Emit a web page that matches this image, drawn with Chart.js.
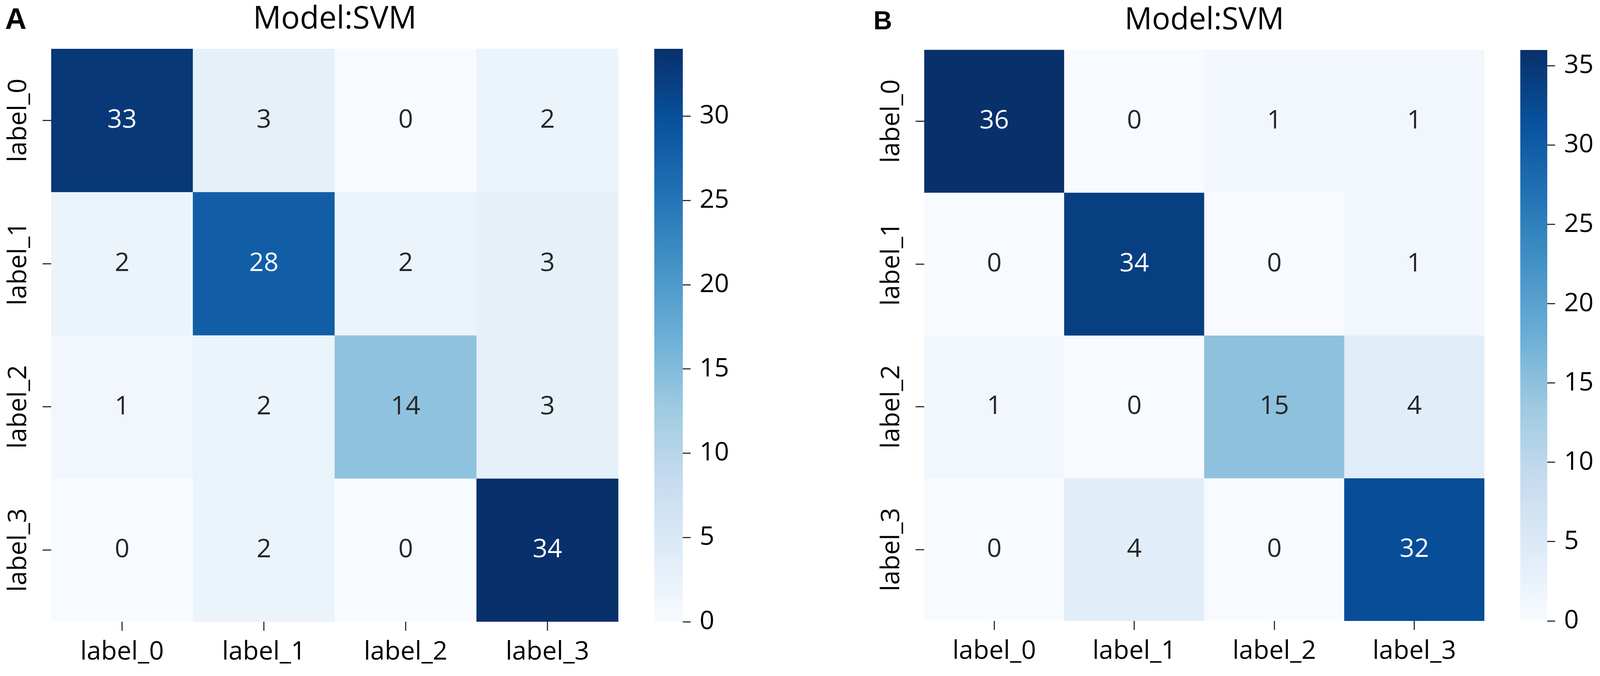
<!DOCTYPE html>
<html>
<head>
<meta charset="utf-8">
<script src="https://cdn.jsdelivr.net/npm/chart.js@4.4.1/dist/chart.umd.min.js"></script>
<style>
  html, body { margin: 0; padding: 0; background: #fff; overflow: hidden; }
  body { width: 4104px; height: 1731px; position: relative; }
  canvas { position: absolute; top: 0; }
  .tag { position: absolute; font-family: 'Liberation Sans', Arial, sans-serif; font-weight: bold; line-height: 1; color: #000; }
</style>
</head>
<body>
<div class="tag" style="left:13px; top:10px; font-size:76px;">A</div>
<div class="tag" style="left:2236px; top:19px; font-size:66px;">B</div>
<canvas id="heatA" width="1583" height="1731" style="left:0px"></canvas>
<canvas id="cbarA" width="300" height="1731" style="left:1675px"></canvas>
<canvas id="heatB" width="1600" height="1731" style="left:2200px"></canvas>
<canvas id="cbarB" width="212" height="1731" style="left:3892px"></canvas>
<script>
(function () {
  'use strict';

  // ── DATA ──────────────────────────────────────────────────────────────────
  var classLabels = ['label_0', 'label_1', 'label_2', 'label_3'];
  var titleText   = 'Model:SVM';

  // confusion matrices, rows = true class, cols = predicted class
  var matrixA = [
    [33, 3, 0, 2],
    [2, 28, 2, 3],
    [1, 2, 14, 3],
    [0, 2, 0, 34]
  ];
  var matrixB = [
    [36, 0, 1, 1],
    [0, 34, 0, 1],
    [1, 0, 15, 4],
    [0, 4, 0, 32]
  ];

  var cbarTicksA = [0, 5, 10, 15, 20, 25, 30];
  var cbarTicksB = [0, 5, 10, 15, 20, 25, 30, 35];

  // matplotlib "Blues"
  var blues = ['#f7fbff', '#deebf7', '#c6dbef', '#9ecae1', '#6baed6',
               '#4292c6', '#2171b5', '#08519c', '#08306b'];

  var FONT = "'Open Sans', 'Noto Sans', sans-serif";
  Chart.defaults.font.family = FONT;
  Chart.defaults.color = '#111';

  // ── COLOUR HELPERS ────────────────────────────────────────────────────────

  function hexToRgb(h) {
    return [parseInt(h.substr(1, 2), 16), parseInt(h.substr(3, 2), 16), parseInt(h.substr(5, 2), 16)];
  }

  function bluesAt(t) {
    t = Math.max(0, Math.min(1, t));
    var pos = t * (blues.length - 1);
    var i = Math.min(Math.floor(pos), blues.length - 2);
    var f = pos - i;
    var a = hexToRgb(blues[i]), b = hexToRgb(blues[i + 1]);
    return [0, 1, 2].map(function (k) { return Math.round(a[k] + (b[k] - a[k]) * f); });
  }

  // seaborn picks the annotation colour from relative luminance
  function textColorFor(rgb) {
    var lin = rgb.map(function (c) {
      c = c / 255;
      return c <= 0.03928 ? c / 12.92 : Math.pow((c + 0.055) / 1.055, 2.4);
    });
    var lum = 0.2126 * lin[0] + 0.7152 * lin[1] + 0.0722 * lin[2];
    return lum > 0.408 ? '#262626' : '#ffffff';
  }

  function rgbStr(rgb) { return 'rgb(' + rgb.join(',') + ')'; }

  // ── CELL ANNOTATIONS ──────────────────────────────────────────────────────

  var annotatePlugin = {
    id: 'annotate',
    afterDatasetsDraw: function (chart) {
      var ctx = chart.ctx;
      var m = chart.options.plugins.annotate;
      ctx.save();
      ctx.font = m.size + 'px ' + FONT;
      ctx.textAlign = 'center';
      ctx.textBaseline = 'middle';
      chart.data.datasets.forEach(function (ds, r) {
        chart.getDatasetMeta(r).data.forEach(function (el, c) {
          var v = ds.values[c];
          ctx.fillStyle = ds.textColors[c];
          ctx.fillText(String(v), el.x, (el.y + el.base) / 2);
        });
      });
      ctx.restore();
    }
  };

  // ── HEATMAP ───────────────────────────────────────────────────────────────

  function heatmap(id, matrix, geo) {
    var flat = [].concat.apply([], matrix);
    var vmin = Math.min.apply(null, flat);
    var vmax = Math.max.apply(null, flat);

    var datasets = matrix.map(function (row, r) {
      var cols = row.map(function (v) { return bluesAt((v - vmin) / (vmax - vmin)); });
      return {
        data:            row.map(function () { return [r, r + 1]; }),
        values:          row,
        backgroundColor: cols.map(rgbStr),
        textColors:      cols.map(textColorFor),
        borderWidth:     0,
        borderSkipped:   false,
        barPercentage:   1,
        categoryPercentage: 1,
        grouped:         false
      };
    });

    return new Chart(document.getElementById(id), {
      type: 'bar',
      data: { labels: classLabels, datasets: datasets },
      plugins: [annotatePlugin],
      options: {
        responsive: false,
        animation: false,
        devicePixelRatio: 1,
        layout: { padding: 0 },
        plugins: {
          legend: { display: false },
          tooltip: { enabled: false },
          annotate: { size: geo.font },
          title: {
            display: true,
            text: titleText,
            fullSize: false,
            color: '#000',
            font: { size: geo.titleSize, weight: 'normal', lineHeight: 1.2 },
            padding: { top: geo.titleTop, bottom: geo.titleBottom }
          }
        },
        scales: {
          x: {
            type: 'category',
            offset: true,
            border: { display: false },
            grid: { offset: false, drawOnChartArea: false, drawTicks: true,
                    tickLength: 23, tickWidth: 3, tickColor: '#333' },
            ticks: { font: { size: geo.font }, color: '#000', padding: geo.xPad,
                     maxRotation: 0, autoSkip: false },
            afterFit: function (s) { s.height = geo.xAxisH; }
          },
          y: {
            type: 'linear',
            min: 0,
            max: classLabels.length,
            reverse: true,
            border: { display: false },
            grid: { drawOnChartArea: false, drawTicks: true,
                    tickLength: 22, tickWidth: 3, tickColor: '#333' },
            ticks: {
              font: { size: geo.font }, color: '#000',
              minRotation: 90, maxRotation: 90,
              crossAlign: 'center', padding: geo.yPad, autoSkip: false,
              callback: function (v) { return classLabels[Math.floor(v)]; }
            },
            afterBuildTicks: function (s) {
              s.ticks = classLabels.map(function (l, i) { return { value: i + 0.5 }; });
            },
            afterFit: function (s) { s.width = geo.yAxisW; }
          }
        }
      }
    });
  }

  // ── COLOURBAR ─────────────────────────────────────────────────────────────

  function colorbar(id, matrix, tickVals, geo) {
    var flat = [].concat.apply([], matrix);
    var vmin = Math.min.apply(null, flat);
    var vmax = Math.max.apply(null, flat);

    return new Chart(document.getElementById(id), {
      type: 'bar',
      data: {
        labels: [''],
        datasets: [{
          data: [[vmin, vmax]],
          borderWidth: 0,
          borderSkipped: false,
          barPercentage: 1,
          categoryPercentage: 1,
          backgroundColor: function (c) {
            var area = c.chart.chartArea;
            if (!area) return blues[0];
            var g = c.chart.ctx.createLinearGradient(0, area.bottom, 0, area.top);
            blues.forEach(function (col, i) { g.addColorStop(i / (blues.length - 1), col); });
            return g;
          }
        }]
      },
      options: {
        responsive: false,
        animation: false,
        devicePixelRatio: 1,
        layout: { padding: { top: geo.top, bottom: geo.bottom, left: 0, right: 0 } },
        plugins: { legend: { display: false }, tooltip: { enabled: false } },
        scales: {
          x: { display: false },
          y: {
            type: 'linear',
            position: 'right',
            min: vmin,
            max: vmax,
            border: { display: false },
            grid: { drawOnChartArea: false, drawTicks: true,
                    tickLength: 20, tickWidth: 3, tickColor: '#333' },
            ticks: { font: { size: geo.font }, color: '#000', padding: 23 },
            afterBuildTicks: function (s) {
              s.ticks = tickVals.map(function (v) { return { value: v }; });
            },
            afterFit: function (s) { s.width = geo.axisW; }
          }
        }
      }
    });
  }

  // ── BOOT ──────────────────────────────────────────────────────────────────

  heatmap('heatA', matrixA, {
    font: 66, titleSize: 80, titleTop: 2, titleBottom: 27,
    xAxisH: 139, yAxisW: 131, xPad: 16, yPad: -46
  });
  colorbar('cbarA', matrixA, cbarTicksA, { top: 125, bottom: 139, axisW: 227, font: 66 });

  heatmap('heatB', matrixB, {
    font: 66, titleSize: 78, titleTop: 6, titleBottom: 28,
    xAxisH: 141, yAxisW: 166, xPad: 16, yPad: -46
  });
  colorbar('cbarB', matrixB, cbarTicksB, { top: 128, bottom: 141, axisW: 143, font: 66 });
}());
</script>
</body>
</html>
